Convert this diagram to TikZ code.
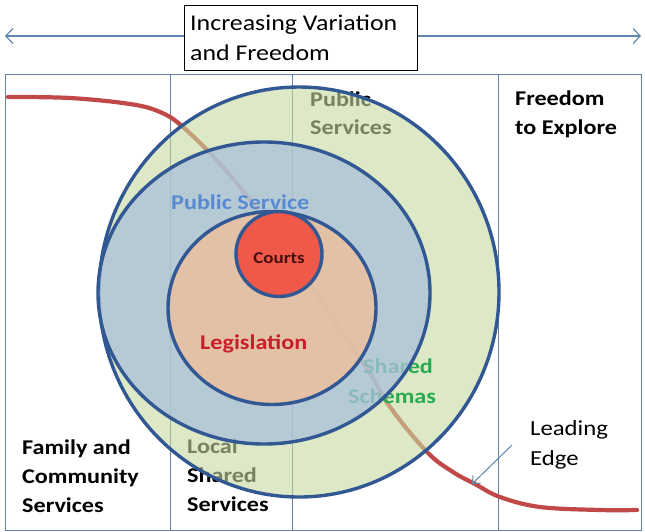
\documentclass[tikz,border=0pt]{standalone}
\usepackage{fontspec}
\setmainfont{Carlito}[FakeStretch=1.15]
\usetikzlibrary{arrows.meta,shapes.geometric}
\definecolor{framecol}{RGB}{100,130,160}
\definecolor{arrowcol}{RGB}{95,135,175}
\definecolor{outlinecol}{RGB}{50,88,148}
\definecolor{greenfill}{RGB}{198,217,160}
\definecolor{bluefill}{RGB}{170,193,219}
\definecolor{tanfill}{RGB}{237,192,154}
\definecolor{redfill}{RGB}{242,78,64}
\definecolor{curvecol}{RGB}{192,72,70}
\definecolor{psblue}{RGB}{88,138,210}
\definecolor{legred}{RGB}{200,30,40}
\definecolor{courtcol}{RGB}{70,15,15}
\definecolor{schgreen}{RGB}{40,170,80}
\begin{document}
\begin{tikzpicture}[x=1pt,y=-1pt,
  lbl/.style={anchor=base west, inner sep=0pt, font=\bfseries\fontsize{21}{25}\selectfont},
  reg/.style={anchor=base west, inner sep=0pt, font=\fontsize{21.5}{25}\selectfont},
  ttl/.style={anchor=base west, inner sep=0pt, font=\fontsize{22.5}{26}\selectfont},
  ring/.style={ellipse, inner sep=0pt, draw=outlinecol, line width=3.4pt},
  gridline/.style={draw=framecol, line width=0.9pt},
  topline/.style={draw=arrowcol, line width=1.2pt, -{Straight Barb[length=7pt,width=15pt]}}]
\useasboundingbox (0,0) rectangle (645,531);
% texts lying under the green disc
\node[lbl] (pub1) at (310,106) {Public};
\node[lbl] (pub2) at (310,134) {Services};
\node[lbl] (loc1) at (187,453) {Local};
\node[lbl] (loc2) at (187,482) {Shared};
\node[lbl] (loc3) at (187,511) {Services};
% frame
\draw[gridline] (5,74) rectangle (641,530);
\draw[gridline] (170,74) -- (170,530);
\draw[gridline] (292,74) -- (292,530);
\draw[gridline] (498,74) -- (498,530);
% leading edge curve
\draw[curvecol, line width=4.2pt, line cap=round] plot[smooth, tension=0.6] coordinates {
 (8,97) (70,98) (130,104) (160,112) (183,127) (223,167) (260,213) (300,269)
 (340,330) (370,373) (390,407) (427,452) (453,472) (475,484) (500,497) (540,507) (600,510) (637,510)};
% discs
\node[ring, fill=greenfill, fill opacity=0.6, minimum width=400pt, minimum height=410pt] (green) at (299,292) {};
\node[lbl, text=schgreen] (sh1) at (363,373) {Shared};
\node[lbl, text=schgreen] (sh2) at (348,403) {Schemas};
\node[ring, fill=bluefill, fill opacity=0.75, minimum width=332pt, minimum height=302pt] (blue) at (264,293) {};
\node[ring, fill=tanfill, fill opacity=0.8, minimum width=208pt, minimum height=193pt] (tan) at (272,308) {};
\node[ring, fill=redfill, fill opacity=0.9, minimum width=86pt, minimum height=85pt] (red) at (279,254) {};
% labels on top
\node[lbl, text=psblue] (ps) at (171,209) {Public Service};
\node[anchor=base, inner sep=0pt, font=\bfseries\fontsize{16.5}{19}\selectfont, text=courtcol] (courts) at (279,263) {Courts};
\node[lbl, text=legred] (leg) at (200,349) {Legislation};
\node[lbl] (fr1) at (515,105) {Freedom};
\node[lbl] (fr2) at (515,134) {to Explore};
\node[lbl] (fam1) at (22,454) {Family and};
\node[lbl] (fam2) at (22,483) {Community};
\node[lbl] (fam3) at (22,512) {Services};
\node[reg] (le1) at (530,435) {Leading};
\node[reg] (le2) at (530,465) {Edge};
% leading edge arrow
\coordinate (lestart) at (512,445);
\coordinate (leend) at (472,484);
\draw[draw=arrowcol, line width=1pt, -{Straight Barb[length=6pt,width=11pt]}] (lestart) -- (leend);
% title box and arrows
\node[draw=black, line width=1pt, fill=white, anchor=north west, minimum width=233pt, minimum height=65pt, inner sep=0pt] (box) at (184,5) {};
\node[ttl] (t1) at (190,30) {Increasing Variation};
\node[ttl] (t2) at (190,60) {and Freedom};
\coordinate (lefttip) at (5,36);
\coordinate (righttip) at (641,36);
\draw[topline] (box.west |- lefttip) -- (lefttip);
\draw[topline] (box.east |- righttip) -- (righttip);
\end{tikzpicture}
\end{document}
